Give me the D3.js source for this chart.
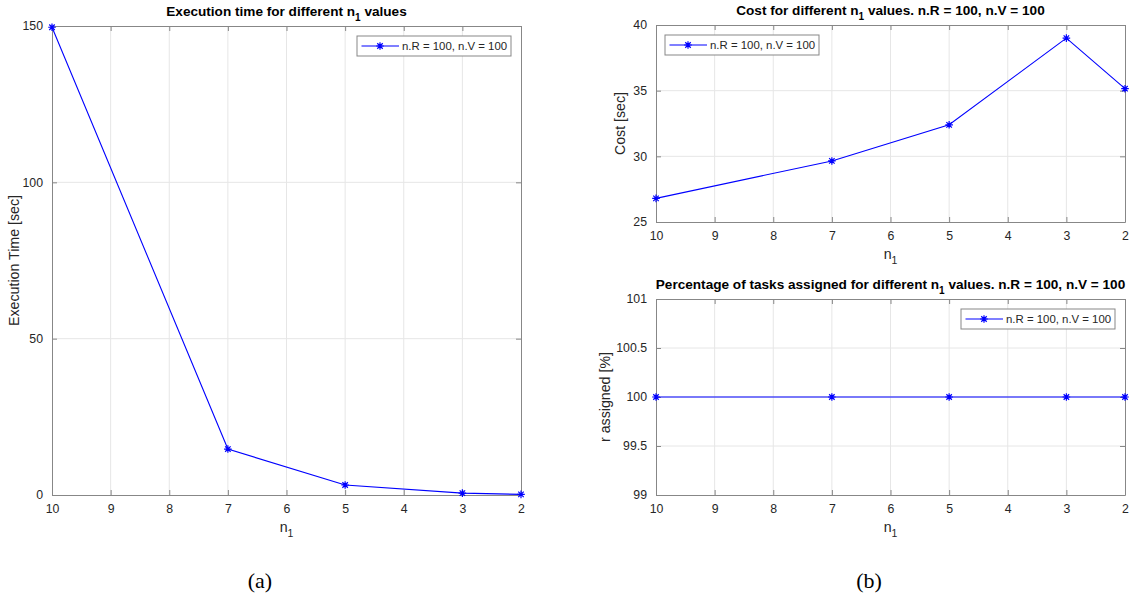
<!DOCTYPE html>
<html>
<head>
<meta charset="utf-8">
<script src="https://cdn.jsdelivr.net/npm/d3@7"></script>
<style>
  html, body { margin: 0; padding: 0; background: #ffffff; }
  svg { display: block; }
  text { font-family: "Liberation Sans", Arial, Helvetica, sans-serif; }
</style>
</head>
<body>
<svg id="fig" width="1137" height="603"></svg>
<script>
// n1 values along the (reversed) x axis
const n1Values = [10, 7, 5, 3, 2];
const xTicks = [10, 9, 8, 7, 6, 5, 4, 3, 2];

// Execution time [sec]
const execTime = [149.6, 14.7, 3.2, 0.6, 0.2];
const execTicks = [0, 50, 100, 150];

// Cost [sec]
const cost = [26.8, 29.65, 32.4, 39.0, 35.15];
const costTicks = [25, 30, 35, 40];

// Percentage of tasks assigned [%]
const assigned = [100, 100, 100, 100, 100];
const assignedTicks = [99, 99.5, 100, 100.5, 101];

const legendLabel = "n.R = 100, n.V = 100";

const svg = d3.select("#fig");
const BLUE = "#0000ff";
const AXIS = "#878787";
const GRID = "#e6e6e6";
const TXT = "#262626";
const TICK_FS = "12.3px";
const LABEL_FS = "13.6px";
const YLABEL_FS = "14.2px";
const LEGEND_FS = "11.4px";

// asterisk marker: plus and cross combined
function asterisk(r) {
  const d = r * 0.72;
  return `M${-r},0L${r},0M0,${-r}L0,${r}M${-d},${-d}L${d},${d}M${-d},${d}L${d},${-d}`;
}

function panel(o) {
  const g = svg.append("g");
  const x = d3.scaleLinear().domain([10, 2]).range([o.left, o.right]);
  const y = d3.scaleLinear().domain(o.yDomain).range([o.bottom, o.top]);

  // grid
  g.append("g").selectAll("line").data(xTicks.slice(1, -1)).join("line")
    .attr("x1", d => x(d)).attr("x2", d => x(d))
    .attr("y1", o.top).attr("y2", o.bottom)
    .attr("stroke", GRID).attr("stroke-width", 1);
  g.append("g").selectAll("line").data(o.yTicks.slice(1, -1)).join("line")
    .attr("x1", o.left).attr("x2", o.right)
    .attr("y1", d => y(d)).attr("y2", d => y(d))
    .attr("stroke", GRID).attr("stroke-width", 1);

  // axes with inward ticks, mirrored on top/right
  const tk = 5;
  const bottomAxis = d3.axisBottom(x).tickValues(xTicks).tickSizeInner(-tk).tickSizeOuter(0).tickPadding(9)
    .tickFormat(d3.format("d"));
  const topAxis = d3.axisTop(x).tickValues(xTicks).tickSizeInner(-tk).tickSizeOuter(0).tickFormat("");
  const leftAxis = d3.axisLeft(y).tickValues(o.yTicks).tickSizeInner(-tk).tickSizeOuter(0).tickPadding(9)
    .tickFormat(d => String(d));
  const rightAxis = d3.axisRight(y).tickValues(o.yTicks).tickSizeInner(-tk).tickSizeOuter(0).tickFormat("");

  const styleAxis = sel => {
    sel.selectAll("path").attr("stroke", AXIS).attr("stroke-width", 1);
    sel.selectAll("line").attr("stroke", AXIS).attr("stroke-width", 1);
    sel.selectAll("text").attr("fill", TXT).style("font-size", TICK_FS)
      .style("font-family", '"Liberation Sans", Arial, sans-serif');
  };
  g.append("g").attr("transform", `translate(0,${o.bottom})`).call(bottomAxis).call(styleAxis);
  g.append("g").attr("transform", `translate(0,${o.top})`).call(topAxis).call(styleAxis);
  g.append("g").attr("transform", `translate(${o.left},0)`).call(leftAxis).call(styleAxis);
  g.append("g").attr("transform", `translate(${o.right},0)`).call(rightAxis).call(styleAxis);

  // series line and markers
  const pts = n1Values.map((v, i) => [v, o.values[i]]);
  g.append("path").datum(pts)
    .attr("d", d3.line().x(d => x(d[0])).y(d => y(d[1])))
    .attr("fill", "none").attr("stroke", BLUE).attr("stroke-width", 1.1);
  g.append("g").selectAll("path").data(pts).join("path")
    .attr("transform", d => `translate(${x(d[0])},${y(d[1])})`)
    .attr("d", asterisk(3.8))
    .attr("stroke", BLUE).attr("stroke-width", 1.2).attr("fill", "none");

  // title with subscript
  const cx = (o.left + o.right) / 2;
  const t = g.append("text").attr("x", cx).attr("y", o.top - 10)
    .attr("text-anchor", "middle").attr("font-weight", "bold")
    .style("font-size", LABEL_FS).attr("fill", "#000");
  t.append("tspan").text(o.titleA);
  t.append("tspan").attr("dy", 4.5).style("font-size", "10px").text("1");
  t.append("tspan").attr("dy", -4.5).text(o.titleB);

  // x label n1
  const xl = g.append("text").attr("x", cx).attr("y", o.bottom + 37)
    .attr("text-anchor", "middle").attr("fill", TXT).style("font-size", YLABEL_FS);
  xl.append("tspan").text("n");
  xl.append("tspan").attr("dy", 4.5).style("font-size", "10.5px").text("1");

  // y label
  g.append("text")
    .attr("transform", `translate(${o.ylabelX},${(o.top + o.bottom) / 2}) rotate(-90)`)
    .attr("text-anchor", "middle").attr("dy", "0.35em")
    .attr("fill", TXT).style("font-size", YLABEL_FS).text(o.ylabel);

  // legend
  const L = o.legend;
  const lg = g.append("g").attr("transform", `translate(${L.x},${L.y})`);
  lg.append("rect").attr("width", 154).attr("height", 20)
    .attr("fill", "#fff").attr("stroke", AXIS).attr("stroke-width", 1);
  lg.append("line").attr("x1", 4.5).attr("x2", 42).attr("y1", 10).attr("y2", 10)
    .attr("stroke", BLUE).attr("stroke-width", 1.1);
  lg.append("path").attr("transform", "translate(23,10)").attr("d", asterisk(3.8))
    .attr("stroke", BLUE).attr("stroke-width", 1.2);
  lg.append("text").attr("x", 45).attr("y", 10).attr("dy", "0.35em")
    .attr("fill", TXT).style("font-size", LEGEND_FS).text(legendLabel);
}

panel({
  left: 52, right: 521, top: 26, bottom: 495,
  yDomain: [0, 150], yTicks: execTicks, values: execTime,
  titleA: "Execution time for different n", titleB: " values",
  ylabel: "Execution Time [sec]", ylabelX: 14,
  legend: { x: 357, y: 36 }
});

panel({
  left: 656, right: 1125, top: 25, bottom: 222,
  yDomain: [25, 40], yTicks: costTicks, values: cost,
  titleA: "Cost for different n", titleB: " values. n.R = 100, n.V = 100",
  ylabel: "Cost [sec]", ylabelX: 620,
  legend: { x: 665, y: 35 }
});

panel({
  left: 656, right: 1125, top: 299, bottom: 495,
  yDomain: [99, 101], yTicks: assignedTicks, values: assigned,
  titleA: "Percentage of tasks assigned for different n", titleB: " values. n.R = 100, n.V = 100",
  ylabel: "r assigned [%]", ylabelX: 605,
  legend: { x: 961, y: 309 }
});

// subfigure captions
const captionFont = '"Liberation Serif", "DejaVu Serif", serif';
svg.append("text").attr("x", 260).attr("y", 588).attr("text-anchor", "middle")
  .style("font-family", captionFont).style("font-size", "22px")
  .attr("fill", "#000").text("(a)");
svg.append("text").attr("x", 869).attr("y", 588).attr("text-anchor", "middle")
  .style("font-family", captionFont).style("font-size", "22px")
  .attr("fill", "#000").text("(b)");
</script>
</body>
</html>
